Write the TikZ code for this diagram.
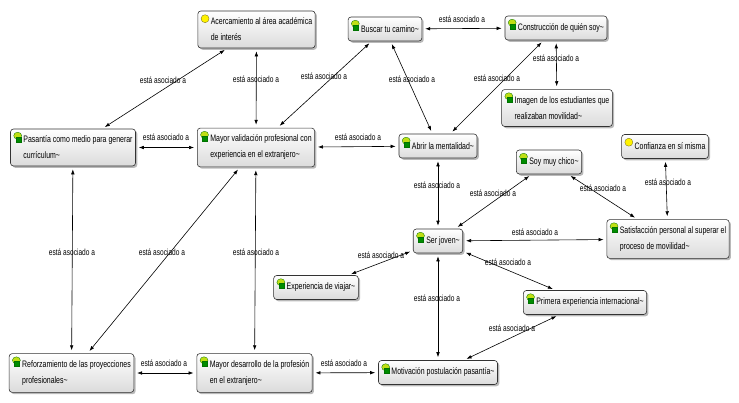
\documentclass[tikz,border=0pt]{standalone}
\usepackage{fontspec}
\setmainfont{Liberation Sans}[FakeStretch=0.74]
\usetikzlibrary{arrows.meta,shadows}
\pgfdeclarelayer{bg}
\pgfsetlayers{bg,main}
\newcommand{\iconsp}{\hspace*{10pt}}
\newcommand{\asocl}{está asociado a}
\tikzset{
  concept/.style={draw=black!80, line width=0.6pt, rounded corners=3pt,
    top color=white, bottom color=black!14, align=left,
    inner xsep=3pt, inner ysep=7pt, minimum height=24pt,
    font=\fontsize{9.4}{16}\selectfont,
    drop shadow={shadow xshift=1.8pt, shadow yshift=-1.8pt, opacity=0.55}},
  link/.style={<->, >={Latex[length=5pt,width=3.6pt]}, line width=0.6pt,
    shorten <=3pt, shorten >=3pt},
  lbl/.style={font=\fontsize{8.9}{9}\selectfont, inner sep=0pt},
  leaficon/.style={draw=green!45!black, fill=yellow!75!green, line width=0.3pt},
  docicon/.style={draw=green!45!black, fill=green!55!black, line width=0.3pt},
  bulbicon/.style={draw=olive!70!black, fill=yellow, line width=0.3pt},
}
\begin{document}
\begin{tikzpicture}[x=1pt,y=-1pt]
        \useasboundingbox (0,0) rectangle (739,402);
        % concepts
        \node (acerc) [concept] at (256.5,29.5) {\iconsp Acercamiento al área académica\\\iconsp de interés};
        \node (buscar) [concept] at (385,29) {\iconsp Buscar tu camino\textasciitilde};
        \node (constr) [concept] at (556,28) {\iconsp Construcción de quién soy\textasciitilde};
        \node (imagen) [concept] at (557,108) {\iconsp Imagen de los estudiantes que\\\iconsp realizaban movilidad\textasciitilde};
        \node (pasant) [concept] at (73,147.5) {\iconsp Pasantía como medio para generar\\\iconsp currículum\textasciitilde};
        \node (valid) [concept] at (256,147.5) {\iconsp Mayor validación profesional con\\\iconsp experiencia en el extranjero\textasciitilde};
        \node (abrir) [concept] at (438,146) {\iconsp Abrir la mentalidad\textasciitilde};
        \node (confi) [concept] at (665,146.5) {\iconsp Confianza en sí misma};
        \node (chico) [concept] at (549,162) {\iconsp Soy muy chico\textasciitilde};
        \node (joven) [concept] at (438,241) {\iconsp Ser joven\textasciitilde};
        \node (satisf) [concept] at (668,239) {\iconsp Satisfacción personal al superar el\\\iconsp proceso de movilidad\textasciitilde};
        \node (viajar) [concept] at (316,287.5) {\iconsp Experiencia de viajar\textasciitilde};
        \node (primera) [concept] at (585,302.5) {\iconsp Primera experiencia internacional\textasciitilde};
        \node (reforz) [concept] at (71.5,373) {\iconsp Reforzamiento de las proyecciones\\\iconsp profesionales\textasciitilde};
        \node (desarr) [concept] at (254.5,373) {\iconsp Mayor desarrollo de la profesión\\\iconsp en el extranjero\textasciitilde};
        \node (motiv) [concept] at (438,372.5) {\iconsp Motivación postulación pasantía\textasciitilde};
        % icons
        \foreach \n in {buscar,constr,imagen,pasant,valid,abrir,chico,joven,satisf,viajar,primera,reforz,desarr,motiv} {
                \filldraw[leaficon] ([xshift=7.5pt,yshift=-7pt]\n.north west) ellipse (4pt and 3.5pt);
                \filldraw[docicon] ([xshift=5.5pt,yshift=-8pt]\n.north west) rectangle ++(5,5);
        }
        \foreach \n in {acerc,confi}
                \filldraw[bulbicon] ([xshift=7.5pt,yshift=-8pt]\n.north west) circle (4pt);
        % linking phrases
        \node (e1) [lbl] at (163,80) {\asocl};
        \node (e2) [lbl] at (256,79) {\asocl};
        \node (e3) [lbl] at (324,76) {\asocl};
        \node (e4) [lbl] at (462,19) {\asocl};
        \node (e5) [lbl] at (412,79) {\asocl};
        \node (e6) [lbl] at (497,78) {\asocl};
        \node (e7) [lbl] at (556,58) {\asocl};
        \node (e8) [lbl] at (166,137) {\asocl};
        \node (e9) [lbl] at (358,137) {\asocl};
        \node (e10) [lbl] at (72,252) {\asocl};
        \node (e11) [lbl] at (162,252) {\asocl};
        \node (e12) [lbl] at (256,252) {\asocl};
        \node (e13) [lbl] at (437,185) {\asocl};
        \node (e14) [lbl] at (493,193) {\asocl};
        \node (e15) [lbl] at (603,188) {\asocl};
        \node (e16) [lbl] at (668,182) {\asocl};
        \node (e17) [lbl] at (535,232) {\asocl};
        \node (e18) [lbl] at (508,262) {\asocl};
        \node (e19) [lbl] at (381,255) {\asocl};
        \node (e20) [lbl] at (437,298) {\asocl};
        \node (e21) [lbl] at (512,328) {\asocl};
        \node (e22) [lbl] at (164,363) {\asocl};
        \node (e23) [lbl] at (344,363) {\asocl};
        \begin{pgfonlayer}{bg}
                \draw (acerc) edge [link] (pasant);
                \draw (acerc) edge [link] (valid);
                \draw (buscar) edge [link] (valid);
                \draw (buscar) edge [link] (constr);
                \draw (buscar) edge [link] (abrir);
                \draw (constr) edge [link] (abrir);
                \draw (constr) edge [link] (imagen);
                \draw (pasant) edge [link] (valid);
                \draw (valid) edge [link] (abrir);
                \draw (pasant) edge [link] (reforz);
                \draw (valid) edge [link] (reforz);
                \draw (valid) edge [link] (desarr);
                \draw (abrir) edge [link] (joven);
                \draw (chico) edge [link] (joven);
                \draw (chico) edge [link] (satisf);
                \draw (confi) edge [link] (satisf);
                \draw (joven) edge [link] (satisf);
                \draw (joven) edge [link] (primera);
                \draw (joven) edge [link] (viajar);
                \draw (joven) edge [link] (motiv);
                \draw (primera) edge [link] (motiv);
                \draw (reforz) edge [link] (desarr);
                \draw (desarr) edge [link] (motiv);
        \end{pgfonlayer}
\end{tikzpicture}
\end{document}
